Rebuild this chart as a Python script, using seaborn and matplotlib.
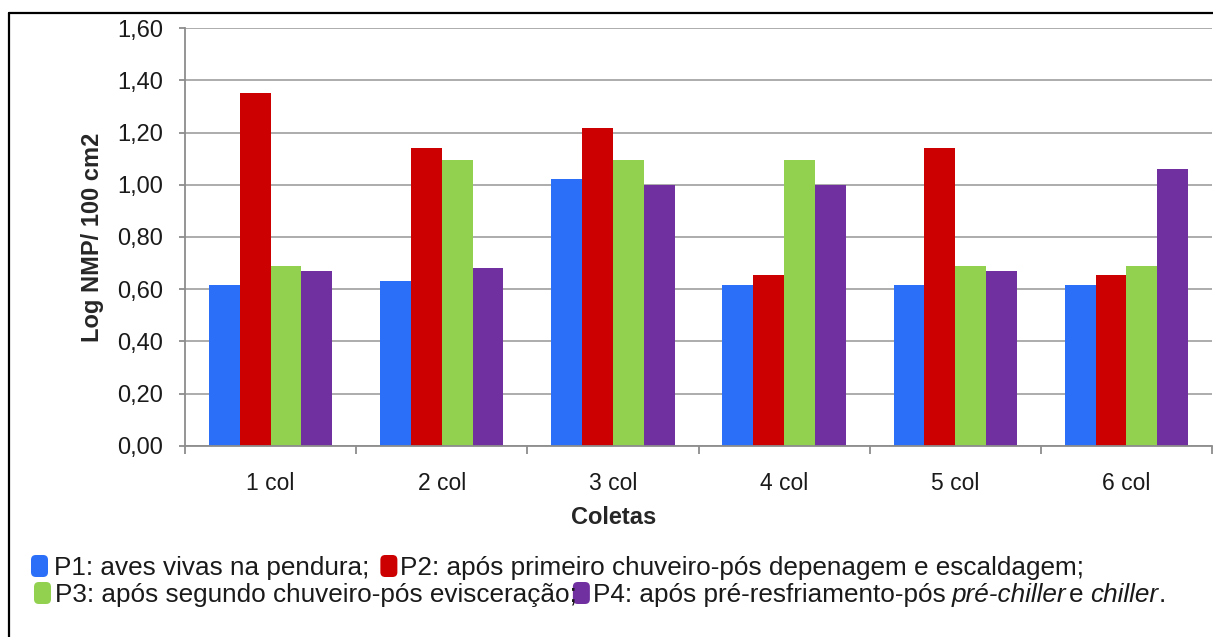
import matplotlib
matplotlib.use("Agg")
import matplotlib.pyplot as plt
import seaborn as sns
import pandas as pd
import numpy as np
from matplotlib.patches import FancyBboxPatch
from matplotlib.lines import Line2D
from matplotlib.ticker import FuncFormatter, FixedLocator

coletas = ["1 col", "2 col", "3 col", "4 col", "5 col", "6 col"]
pontos = ["P1", "P2", "P3", "P4"]
p1 = [0.616, 0.630, 1.022, 0.616, 0.616, 0.616]
p2 = [1.351, 1.142, 1.219, 0.655, 1.142, 0.654]
p3 = [0.688, 1.094, 1.094, 1.094, 0.688, 0.688]
p4 = [0.670, 0.682, 1.000, 1.000, 0.668, 1.061]
legend_labels = [
    "P1: aves vivas na pendura;",
    "P2: após primeiro chuveiro-pós depenagem e escaldagem;",
    "P3: após segundo chuveiro-pós evisceração;",
    "P4: após pré-resfriamento-pós",
]
colors = ["#2B6EF8", "#CC0000", "#92D050", "#7030A0"]

rows = []
for serie, vals in zip(pontos, [p1, p2, p3, p4]):
    for c, v in zip(coletas, vals):
        rows.append({"Coletas": c, "valor": v, "ponto": serie})
df = pd.DataFrame(rows)

sns.set_theme(style="white")
plt.rcParams["font.family"] = ["Liberation Sans", "DejaVu Sans"]

W, H, DPI = 1213, 637, 100
fig = plt.figure(figsize=(W / DPI, H / DPI), dpi=DPI)
fig.patch.set_facecolor("white")
ax = fig.add_axes([185 / W, 1 - 445.7 / H, (1212 - 185) / W, (445.7 - 28.3) / H])

sns.barplot(data=df, x="Coletas", y="valor", hue="ponto", palette=colors,
            width=0.72, saturation=1, linewidth=0, legend=False, ax=ax,
            errorbar=None)

ax.set_ylim(0, 1.6)
ax.set_xlim(-0.5, 5.5)
ax.set_yticks(np.arange(0, 1.61, 0.2))
ax.yaxis.set_major_formatter(FuncFormatter(lambda v, p: f"{v:.2f}".replace(".", ",")))
ax.grid(axis="y", color="#A6A6A6", linewidth=1.3)
ax.set_axisbelow(True)
for s in ["top", "right"]:
    ax.spines[s].set_visible(False)
for s in ["left", "bottom"]:
    ax.spines[s].set_color("#8C8C8C")
    ax.spines[s].set_linewidth(1.3)

ax.tick_params(axis="y", which="major", length=4, width=1.3, color="#8C8C8C",
               labelsize=17, pad=12, left=True, labelcolor="#1a1a1a")
ax.xaxis.set_minor_locator(FixedLocator(np.arange(-0.5, 6, 1)))
ax.tick_params(axis="x", which="minor", length=6, width=1.3, color="#8C8C8C",
               bottom=True, direction="out")
ax.tick_params(axis="x", which="major", length=0, labelsize=16.5, pad=19,
               labelcolor="#1a1a1a")

ax.set_xlabel("Coletas", fontsize=17, fontweight="bold")
ax.xaxis.set_label_coords((614 - 185) / (1212 - 185), (445.7 - 506) / (445.7 - 28.3))
ax.set_ylabel("Log NMP/ 100 cm2", fontsize=17, fontweight="bold", labelpad=9)

# frame
fig.add_artist(Line2D([9 / W, 9 / W], [0, 1 - 12.7 / H], transform=fig.transFigure,
                      color="black", linewidth=1.6))
fig.add_artist(Line2D([9 / W, 1], [1 - 12.7 / H, 1 - 12.7 / H], transform=fig.transFigure,
                      color="black", linewidth=1.6))

# legend (flow layout)
fig.canvas.draw()
renderer = fig.canvas.get_renderer()
fs = 18.8


def add_patch(x, ybase, color):
    p = FancyBboxPatch((x / W, (H - ybase - 2) / H), 17 / W, 22 / H,
                       boxstyle="round,pad=0,rounding_size=0.004",
                       transform=fig.transFigure, facecolor=color, edgecolor="none",
                       mutation_aspect=W / H)
    fig.add_artist(p)


def add_text(x, ybase, s, style="normal"):
    t = fig.text(x / W, (H - ybase) / H, s, fontsize=fs, style=style, va="baseline",
                 ha="left", color="#1a1a1a")
    bb = t.get_window_extent(renderer)
    return bb.x1


row1, row2 = 575, 602
add_patch(31, row1, colors[0])
x = add_text(54, row1, legend_labels[0])
add_patch(x + 11, row1, colors[1])
add_text(x + 31, row1, legend_labels[1])

add_patch(34, row2, colors[2])
x = add_text(55, row2, legend_labels[2])
add_patch(x - 4, row2, colors[3])
x = add_text(x + 16, row2, legend_labels[3])
x = add_text(x + 6, row2, "pré-chiller", style="italic")
x = add_text(x + 3, row2, "e", style="normal")
x = add_text(x + 6, row2, "chiller", style="italic")
add_text(x + 1, row2, ".")

fig.savefig("out.png", dpi=DPI, facecolor="white")
